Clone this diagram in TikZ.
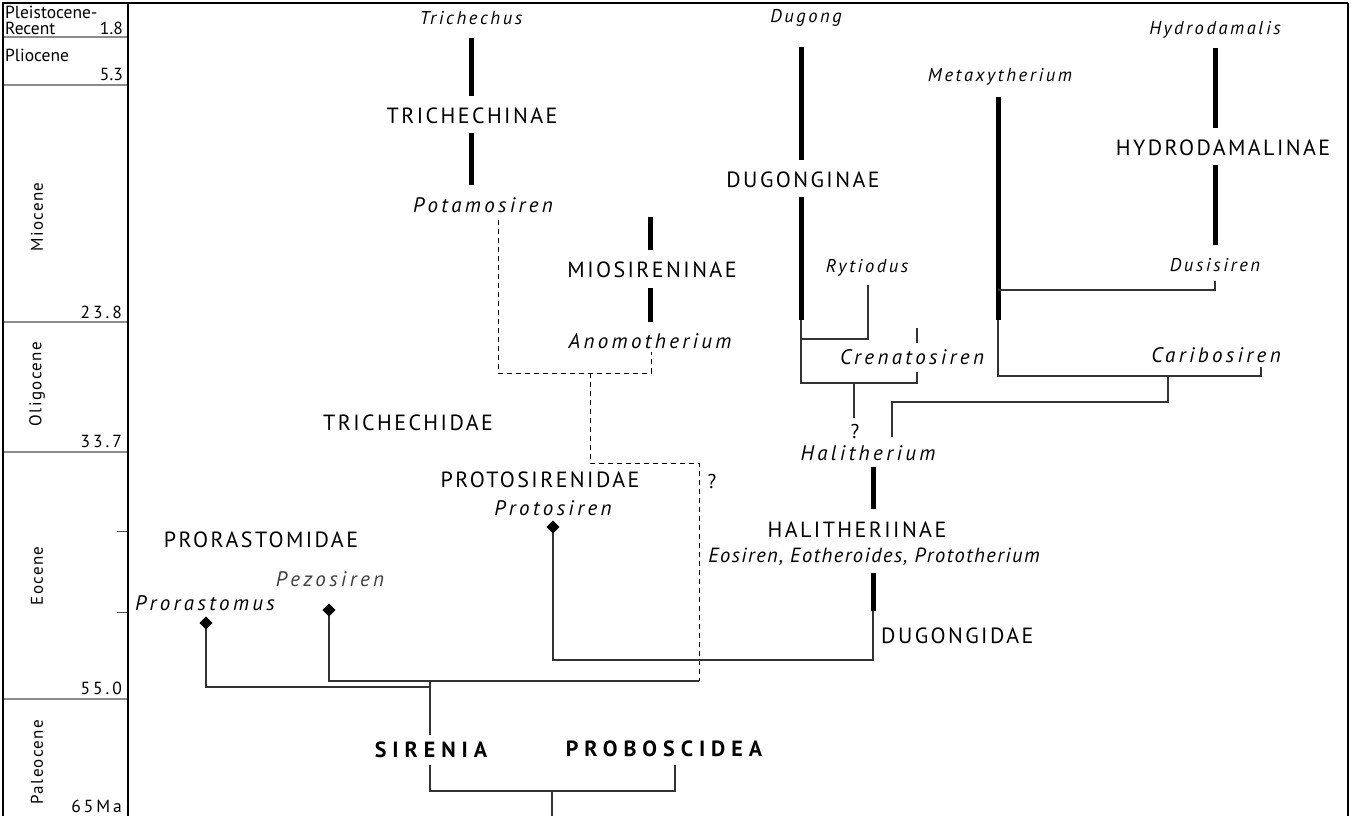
\documentclass[tikz,border=0pt]{standalone}
\usepackage{fontspec}
\setmainfont{PT Sans}
\newfontfamily\grpfont[LetterSpace=11]{PT Sans}
\newfontfamily\agefont[LetterSpace=17]{PT Sans}
\newfontfamily\epfont[LetterSpace=8]{PT Sans}
\newfontfamily\genfont[LetterSpace=16]{PT Sans Italic}
\newfontfamily\gensfont[LetterSpace=14]{PT Sans Italic}
\newfontfamily\eosfont[LetterSpace=7]{PT Sans Italic}
\newfontfamily\boldfont[LetterSpace=27]{PT Sans Bold}
\usetikzlibrary{shapes.geometric}
\begin{document}
\begin{tikzpicture}[x=1pt,y=-1pt,
  grp/.style={inner sep=0pt,font=\grpfont\fontsize{22}{24}\selectfont},
  gen/.style={inner sep=0pt,font=\genfont\fontsize{21}{23}\selectfont},
  gens/.style={inner sep=0pt,font=\gensfont\fontsize{18.5}{20}\selectfont},
  bold/.style={inner sep=0pt,font=\boldfont\fontsize{22}{24}\selectfont},
  epoch/.style={inner sep=0pt,font=\fontsize{17.5}{19}\selectfont},
  ep/.style={inner sep=0pt,rotate=90,font=\epfont\fontsize{17}{19}\selectfont},
  age/.style={inner sep=0pt,anchor=east,font=\agefont\fontsize{17.5}{19}\selectfont},
  bar/.style={line width=5pt},
  ln/.style={line width=1.1pt,black!80},
  dsh/.style={line width=1pt,dash pattern=on 5pt off 4pt},
  dia/.style={diamond,aspect=1,fill=black,minimum size=13pt,inner sep=0pt},
  sep/.style={line width=1.6pt,black!45},
  tick/.style={line width=1pt,black!70},
  frame/.style={line width=2.2pt}]
\useasboundingbox (0,0) rectangle (1351,816);
% ---------- frame and time column ----------
\coordinate (fbl) at (3,816);
\coordinate (ftl) at (3,3);
\coordinate (ftr) at (1348,3);
\coordinate (fbr) at (1348,816);
\coordinate (dtop) at (128,3);
\coordinate (dbot) at (128,816);
\draw[frame] (fbl) -- (ftl) -- (ftr);
\draw[line width=1.5pt] (ftr) -- (fbr);
\draw[line width=2pt] (dtop) -- (dbot);
\foreach \yy/\nm in {37/s1,85/s2,322/s3,452/s4,699/s5}{
  \coordinate (\nm a) at (4,\yy); \coordinate (\nm b) at (127,\yy);
  \draw[sep] (\nm a) -- (\nm b);}
\foreach \yy/\nm in {531/t1,612/t2}{
  \coordinate (\nm a) at (117,\yy); \coordinate (\nm b) at (127,\yy);
  \draw[tick] (\nm a) -- (\nm b);}
\node[epoch,anchor=west] (pleist) at (5,12) {Pleistocene-};
\node[epoch,anchor=west] (recent) at (5,28) {Recent};
\node[epoch,anchor=east] (a18) at (123,28) {1.8};
\node[epoch,anchor=west] (plio) at (5,55) {Pliocene};
\node[epoch,anchor=east] (a53) at (123,74) {5.3};
\node[ep] (mio) at (37,217) {Miocene};
\node[age] (a238) at (122,312) {23.8};
\node[ep] (oli) at (37,384) {Oligocene};
\node[age] (a337) at (122,441) {33.7};
\node[ep] (eoc) at (37,576) {Eocene};
\node[age] (a550) at (122,688) {55.0};
\node[ep] (pal) at (37,762) {Paleocene};
\node[age] (a65) at (122,806) {65Ma};
% ---------- Trichechidae ----------
\node[gens] (trichechus) at (471,18) {Trichechus};
\coordinate (tb1) at (471,38); \coordinate (tb2) at (471,96);
\draw[bar] (tb1) -- (tb2);
\node[grp] (trichechinae) at (472,116) {TRICHECHINAE};
\coordinate (tb3) at (471,133); \coordinate (tb4) at (471,185);
\draw[bar] (tb3) -- (tb4);
\node[gen] (potamosiren) at (483,205) {Potamosiren};
\coordinate (mb1) at (650,217); \coordinate (mb2) at (650,250);
\draw[bar] (mb1) -- (mb2);
\node[grp] (miosireninae) at (652,270) {MIOSIRENINAE};
\coordinate (mb3) at (650,288); \coordinate (mb4) at (650,322);
\draw[bar] (mb3) -- (mb4);
\node[gen] (anomotherium) at (650,341) {Anomotherium};
\coordinate (d1) at (498,220); \coordinate (d2) at (498,373);
\coordinate (d3) at (651,373); \coordinate (d4) at (651,352);
\draw[dsh] (d1) -- (d2) -- (d3) -- (d4);
\coordinate (d5) at (590,373); \coordinate (d6) at (590,463);
\coordinate (d7) at (699,463); \coordinate (d8) at (699,681);
\draw[dsh] (d5) -- (d6) -- (d7) -- (d8);
\node[grp] (trichechidae) at (408,423) {TRICHECHIDAE};
\node[grp] (protosirenidae) at (540,480) {PROTOSIRENIDAE};
\node[inner sep=0pt,font=\fontsize{20}{24}\selectfont] (q1) at (712,481) {?};
\node[gen] (protosiren) at (553,508) {Protosiren};
\node[dia] (pdia) at (553,527) {};
\coordinate (p1) at (553,660); \coordinate (p2) at (873,660); \coordinate (p3) at (873,611);
\draw[ln] (pdia.center) -- (p1) -- (p2) -- (p3);
% ---------- Dugongidae ----------
\coordinate (hb3) at (873,573); \coordinate (hb4) at (873,611);
\draw[bar] (hb3) -- (hb4);
\node[grp,anchor=west] (dugongidae) at (881,636) {DUGONGIDAE};
\node[inner sep=0pt,font=\eosfont\fontsize{20.5}{22}\selectfont] (eosiren) at (874,557) {Eosiren, Eotheroides, Prototherium};
\node[grp] (halitheriinae) at (857,530) {HALITHERIINAE};
\coordinate (hb1) at (873,467); \coordinate (hb2) at (873,509);
\draw[bar] (hb1) -- (hb2);
\node[gen] (halitherium) at (868,453) {Halitherium};
\node[inner sep=0pt,font=\fontsize{20}{24}\selectfont] (q2) at (855,431) {?};
\node[gens] (dugong) at (806,18) {Dugong};
\coordinate (db1) at (801,47); \coordinate (db2) at (801,160);
\draw[bar] (db1) -- (db2);
\node[grp] (dugonginae) at (803,180) {DUGONGINAE};
\coordinate (db3) at (801,197); \coordinate (db4) at (801,320);
\draw[bar] (db3) -- (db4);
\node[gens] (rytiodus) at (867,268) {Rytiodus};
\coordinate (r1) at (868,285); \coordinate (r2) at (868,339); \coordinate (r3) at (801,339);
\draw[ln] (r1) -- (r2) -- (r3);
\coordinate (c0) at (917,328); \coordinate (c00) at (917,343);
\draw[ln] (c0) -- (c00);
\node[gen] (crenatosiren) at (912,357) {Crenatosiren};
\coordinate (c1) at (917,372); \coordinate (c2) at (917,383); \coordinate (c3) at (801,383);
\draw[ln] (db4) -- (c3) -- (c2) -- (c1);
\coordinate (c4) at (854,383); \coordinate (c5) at (854,418);
\draw[ln] (c4) -- (c5);
\node[gens] (metaxytherium) at (1000,77) {Metaxytherium};
\coordinate (mx1) at (998,97); \coordinate (mx2) at (998,320);
\draw[bar] (mx1) -- (mx2);
\coordinate (mx3) at (998,376); \coordinate (ca1) at (1261,376); \coordinate (ca2) at (1261,367);
\draw[ln] (mx2) -- (mx3) -- (ca1) -- (ca2);
\node[gen] (caribosiren) at (1216,355) {Caribosiren};
\coordinate (k1) at (1168,376); \coordinate (k2) at (1168,402);
\coordinate (k3) at (892,402); \coordinate (k4) at (892,437);
\draw[ln] (k1) -- (k2) -- (k3) -- (k4);
\coordinate (ds0) at (998,290); \coordinate (ds1) at (1215,290); \coordinate (ds2) at (1215,281);
\draw[ln] (ds0) -- (ds1) -- (ds2);
\node[gens] (dusisiren) at (1215,265) {Dusisiren};
\coordinate (hy3) at (1215,165); \coordinate (hy4) at (1215,245);
\draw[bar] (hy3) -- (hy4);
\node[grp] (hydrodamalinae) at (1223,148) {HYDRODAMALINAE};
\coordinate (hy1) at (1215,48); \coordinate (hy2) at (1215,128);
\draw[bar] (hy1) -- (hy2);
\node[gens] (hydrodamalis) at (1215,30) {Hydrodamalis};
% ---------- Prorastomidae and base ----------
\node[grp] (prorastomidae) at (261,540) {PRORASTOMIDAE};
\node[gen,black!75] (pezosiren) at (330,579) {Pezosiren};
\node[dia] (pzdia) at (329,610) {};
\coordinate (pz1) at (329,681);
\draw[ln] (pzdia.center) -- (pz1) -- (d8);
\node[gen] (prorastomus) at (205,603) {Prorastomus};
\node[dia] (prdia) at (206,623) {};
\coordinate (pr1) at (206,687); \coordinate (pr2) at (430,687);
\draw[ln] (prdia.center) -- (pr1) -- (pr2);
\coordinate (s0) at (430,681); \coordinate (s1) at (430,735);
\draw[ln] (s0) -- (s1);
\node[bold] (sirenia) at (431,750) {SIRENIA};
\node[bold] (proboscidea) at (664,749) {PROBOSCIDEA};
\coordinate (b1) at (430,765); \coordinate (b2) at (430,791);
\coordinate (b3) at (675,791); \coordinate (b4) at (675,765);
\draw[ln] (b1) -- (b2) -- (b3) -- (b4);
\coordinate (b5) at (552,791); \coordinate (b6) at (552,816);
\draw[ln] (b5) -- (b6);
% redraw diamonds on top
\node[dia] at (pdia) {};
\node[dia] at (pzdia) {};
\node[dia] at (prdia) {};
\end{tikzpicture}
\end{document}
